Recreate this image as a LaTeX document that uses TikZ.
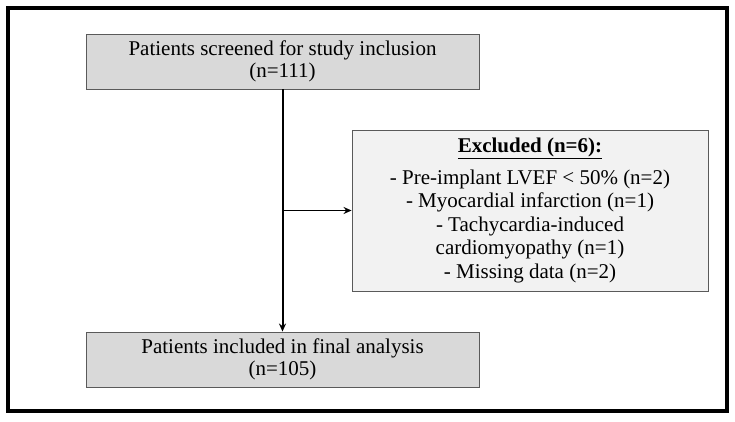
\documentclass[tikz,border=0pt]{standalone}
\usepackage{fontspec}
\setmainfont{Liberation Serif}
\usepackage{tikz}
\usetikzlibrary{
    arrows.meta,
    positioning,
    calc
}
\definecolor{boxGray}{RGB}{217,217,217}
\definecolor{exGray}{RGB}{242,242,242}
\definecolor{edgeGray}{RGB}{90,90,90}
\tikzset{
  block/.style   = {draw=edgeGray, fill=boxGray, line width=0.9pt,
                    minimum width=393pt, minimum height=55pt, inner sep=0pt,
                    align=center, font=\fontsize{21}{22}\selectfont},
  exblock/.style = {draw=edgeGray, fill=exGray, line width=0.9pt,
                    minimum width=356pt, minimum height=161pt, inner sep=0pt,
                    align=center, font=\fontsize{21}{23.5}\selectfont},
  arr/.style     = {-{Stealth[length=8pt,width=7pt]}, line width=2pt, black},
  arrh/.style    = {-{Stealth[length=8pt,width=7pt]}, line width=1.6pt, black}
}

\begin{document}
\begin{tikzpicture}[x=1pt,y=-1pt]
\useasboundingbox (0,0) rectangle (735,422);
\draw[line width=4pt] (8,8) rectangle (727,411);
\node[block] (screen) at (282.5,61.5) {Patients screened for study inclusion\\(n=111)};
\node[block] (final) at (282.5,359.5) {Patients included in final analysis\\(n=105)};
\node[exblock] (excl) at (530,210.5) {\underline{\textbf{Excluded (n=6):}}\\[8pt]
  - Pre-implant LVEF < 50\% (n=2)\\
  - Myocardial infarction (n=1)\\
  - Tachycardia-induced\\
  cardiomyopathy (n=1)\\
  - Missing data (n=2)};
\coordinate (split) at (screen.south |- excl.west);
\draw[arr] (screen.south) -- (final.north);
\draw[arrh] (split) -- (excl.west);
\end{tikzpicture}
\end{document}
